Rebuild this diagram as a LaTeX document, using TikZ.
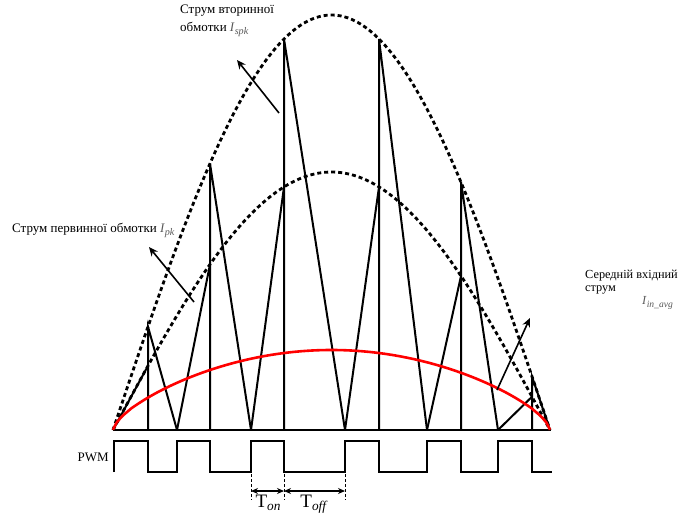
\documentclass[tikz,border=0pt]{standalone}
\usepackage{fontspec}
\usepackage{graphicx}
\setmainfont{Liberation Serif}
\usetikzlibrary{arrows.meta}
\definecolor{igray}{gray}{0.35}
\newcommand{\subI}[1]{{\color{igray}\textit{I}\raisebox{-0.28em}{\scalebox{0.78}{\textit{#1}}}}}
\begin{document}
\begin{tikzpicture}[x=1pt,y=-1pt,
  wave/.style={line width=2pt, line join=miter},
  env/.style={line width=2.8pt, dash pattern=on 4pt off 3pt},
  avgc/.style={red, line width=2.6pt},
  lblarrow/.style={-{Stealth[length=9pt,width=8pt]}, line width=1.6pt},
  dimarrow/.style={{Stealth[length=7pt,width=6pt]}-{Stealth[length=7pt,width=6pt]}, line width=1.1pt},
  tickln/.style={line width=0.8pt, dash pattern=on 3pt off 2pt},
  lbl/.style={font=\fontsize{13}{18}\selectfont, inner sep=0pt},
  rlbl/.style={font=\fontsize{12.3}{13}\selectfont, inner sep=0pt},
  tlbl/.style={font=\fontsize{19}{21}\selectfont, inner sep=0pt}]
\useasboundingbox (0,0) rectangle (680,515);

% envelopes
\draw[env] plot[domain=113:550, samples=120] (\x, {430-415*sin(0.411899*(\x-113))});
\draw[env] plot[domain=113:550, samples=120] (\x, {430-258*sin(0.411899*(\x-113))});

% baseline
\coordinate (b0) at (113,430);
\coordinate (b1) at (551,430);
\draw[line width=2.2pt] (b0) -- (b1);

% triangular current waveform
\foreach \va/\px/\vb/\yi/\yo in {113/148/177/365.8/326.7, 177/210/251/264.4/163.6, 251/284/345/187/39, 345/379/427/187/39, 427/461/498/276/182, 498/532/550/396.7/376.5}{
  \draw[wave] (\va,430) -- (\px,\yi);
  \draw[wave] (\px,430) -- (\px,\yo) -- (\vb,430);
}

% average input current
\draw[avgc] plot[domain=113:550, samples=120] (\x, {430-80*pow(max(sin(0.411899*(\x-113)),0.0001),0.65)});

% PWM
\draw[wave, line width=2.4pt] (114,472) -- (114,441) -- (148,441) -- (148,472) -- (177,472) -- (177,441) -- (210,441) -- (210,472) -- (251,472) -- (251,441) -- (284,441) -- (284,472) -- (345,472) -- (345,441) -- (379,441) -- (379,472) -- (427,472) -- (427,441) -- (461,441) -- (461,472) -- (498,472) -- (498,441) -- (532,441) -- (532,472) -- (552,472);
\node[lbl, anchor=base east] (pwm) at (109,461) {PWM};

% Ton / Toff
\coordinate (t1a) at (251,474); \coordinate (t1b) at (251,500);
\coordinate (t2a) at (284,474); \coordinate (t2b) at (284,500);
\coordinate (t3a) at (345,474); \coordinate (t3b) at (345,500);
\draw[tickln] (t1a) -- (t1b);
\draw[tickln] (t2a) -- (t2b);
\draw[tickln] (t3a) -- (t3b);
\coordinate (d1) at (251,491); \coordinate (d2) at (284,491); \coordinate (d3) at (345,491);
\draw[dimarrow] (d1) -- (d2);
\draw[dimarrow] (d2) -- (d3);
\node[tlbl, anchor=base] (ton) at (268,507) {T\raisebox{-0.2em}{\scalebox{0.7}{\textit{on}}}};
\node[tlbl, anchor=base] (toff) at (314,507) {T\raisebox{-0.2em}{\scalebox{0.7}{\textit{off}}}};

% labels
\node[lbl, anchor=base west, align=left] (ls) at (180,31) {Струм вторинної\\обмотки \subI{spk}};
\draw[lblarrow] (279,113) -- (237,60);
\node[lbl, anchor=base west] (lp) at (12,232) {Струм первинної обмотки \subI{pk}};
\draw[lblarrow] (194,302) -- (149,247);
\node[rlbl, anchor=base west, align=left] (la) at (585,291) {Середній вхідний\\струм};
\node[rlbl, anchor=base west] (lai) at (642,304) {\subI{in\_avg}};
\draw[lblarrow] (497,390) -- (530,318);
\end{tikzpicture}
\end{document}
